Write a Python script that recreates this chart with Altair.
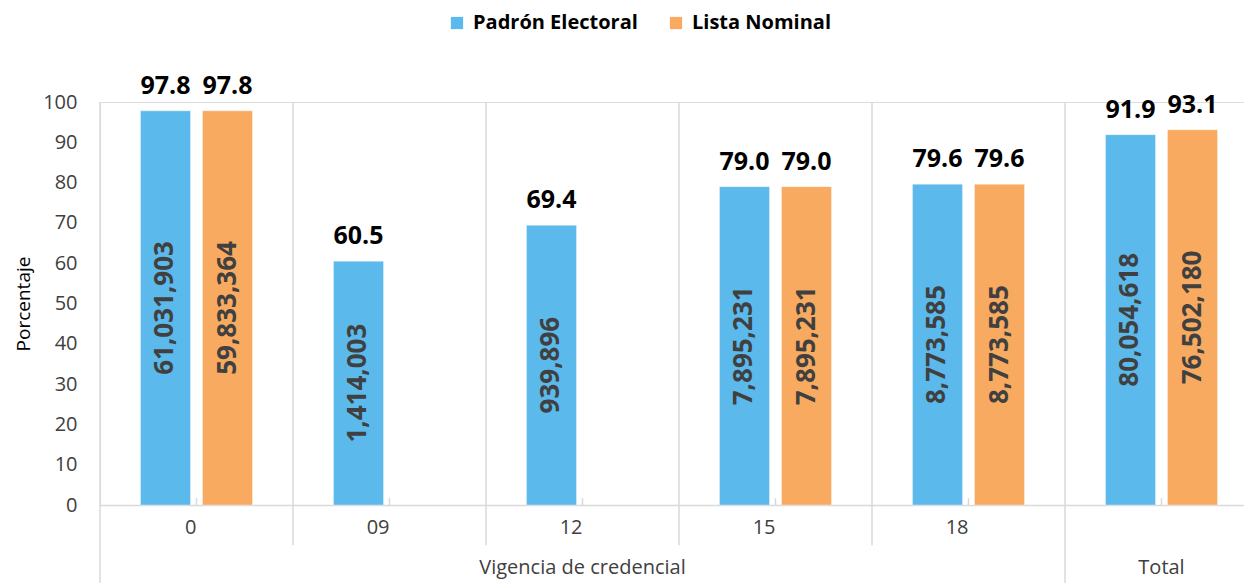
import altair as alt
import pandas as pd

categories = ["0", "09", "12", "15", "18", "Total"]
series = ["Padrón Electoral", "Lista Nominal"]
padron_pct = [97.8, 60.5, 69.4, 79.0, 79.6, 91.9]
lista_pct = [97.8, None, None, 79.0, 79.6, 93.1]
padron_n = [61031903, 1414003, 939896, 7895231, 8773585, 80054618]
lista_n = [59833364, None, None, 7895231, 8773585, 76502180]
group_label = "Vigencia de credencial"
total_label = "Total"

rows = []
for c, p, n in zip(categories, padron_pct, padron_n):
    rows.append({"cat": c, "serie": series[0], "pct": p, "n": n})
for c, p, n in zip(categories, lista_pct, lista_n):
    if p is not None:
        rows.append({"cat": c, "serie": series[1], "pct": p, "n": n})
df = pd.DataFrame(rows)

FONT = "Open Sans"
BLUE = "#5BB9EC"
ORANGE = "#F8AA60"
GRID = "#D9D9D9"

x_enc = alt.X(
    "cat:N",
    sort=categories,
    scale=alt.Scale(domain=categories, paddingInner=0, paddingOuter=0, range=[0, 1158]),
    axis=alt.Axis(
        title=None,
        labelAngle=0,
        ticks=False,
        domain=True,
        domainColor=GRID,
        domainWidth=1.5,
        grid=False,
        labelFont=FONT,
        labelFontSize=20,
        labelColor="#404040",
        labelPadding=22,
        labelExpr="datum.value == 'Total' ? '' : datum.value",
    ),
)
xoff = alt.XOffset(
    "serie:N",
    sort=series,
    scale=alt.Scale(domain=series, paddingInner=0.1935, paddingOuter=0.653),
)
y_scale = alt.Scale(domain=[0, 100], nice=False, zero=True)

base = alt.Chart(df)

bars = base.mark_bar(stroke="#FFFFFF", strokeOpacity=0.35, strokeWidth=1).encode(
    x=x_enc,
    xOffset=xoff,
    y=alt.Y(
        "pct:Q",
        scale=y_scale,
        axis=alt.Axis(
            title="Porcentaje",
            values=list(range(0, 101, 10)),
            domain=False,
            ticks=False,
            grid=False,
            labelFont=FONT,
            labelFontSize=20,
            labelColor="#404040",
            labelPadding=23,
            titleFont=FONT,
            titleFontSize=19,
            titleFontWeight="normal",
            titleColor="#000000",
            titlePadding=9,
        ),
    ),
    color=alt.Color(
        "serie:N",
        sort=series,
        scale=alt.Scale(domain=series, range=[BLUE, ORANGE]),
        legend=alt.Legend(
            title=None,
            orient="none",
            direction="horizontal",
            legendX=347,
            legendY=-89,
            symbolType="square",
            symbolSize=150,
            symbolStrokeWidth=0,
            labelFont=FONT,
            labelFontSize=20,
            labelFontWeight="bold",
            labelColor="#000000",
            labelOffset=6,
            labelLimit=400,
            columnPadding=28,
        ),
    ),
)

top_labels = base.mark_text(
    font=FONT, fontSize=25, fontWeight="bold", color="#000000",
    baseline="alphabetic", dy=-17,
).encode(
    x=alt.X("cat:N", sort=categories),
    xOffset=alt.XOffset("serie:N", sort=series),
    y=alt.Y("pct:Q", scale=y_scale),
    text=alt.Text("pct:Q", format=".1f"),
)

in_labels = base.transform_calculate(mid="datum.pct / 2").mark_text(
    font=FONT, fontSize=26, fontWeight="bold", color="#404040",
    angle=270, baseline="middle", align="center",
).encode(
    x=alt.X("cat:N", sort=categories),
    xOffset=alt.XOffset("serie:N", sort=series),
    y=alt.Y("mid:Q", scale=y_scale),
    text=alt.Text("n:Q", format=",d"),
)

sep_df = pd.DataFrame({
    "cat": categories,
    "top": [100] * len(categories),
    "bottom": [-21, -10, -10, -10, -10, -21],
})
seps = alt.Chart(sep_df).mark_rule(color=GRID, strokeWidth=1.5).encode(
    x=alt.X("cat:N", sort=categories, bandPosition=0),
    y=alt.Y("top:Q", scale=y_scale),
    y2="bottom:Q",
)

tick_df = pd.DataFrame({"cat": categories, "y0": [0] * len(categories), "y1": [1.7] * len(categories)})
center_ticks = alt.Chart(tick_df).mark_rule(color=GRID, strokeWidth=1.5).encode(
    x=alt.X("cat:N", sort=categories),
    y=alt.Y("y0:Q", scale=y_scale),
    y2="y1:Q",
)

lvl2_df = pd.DataFrame({"cat": ["12", "Total"], "txt": [group_label, total_label], "yv": [-15.6, -15.6]})
lvl2 = alt.Chart(lvl2_df).mark_text(
    font=FONT, fontSize=20, color="#404040", baseline="middle", align="center",
).encode(
    x=alt.X("cat:N", sort=categories),
    y=alt.Y("yv:Q", scale=y_scale),
    text="txt:N",
)

chart = alt.layer(seps, center_ticks, bars, top_labels, in_labels, lvl2).properties(
    width=1144,
    height=403,
    autosize=alt.AutoSizeParams(type="none"),
    padding={"left": 92, "top": 94, "right": 0, "bottom": 78},
).configure_view(stroke=None).configure(background="#FFFFFF")

chart.save("out.html", embed_options={"renderer": "svg", "actions": False})
